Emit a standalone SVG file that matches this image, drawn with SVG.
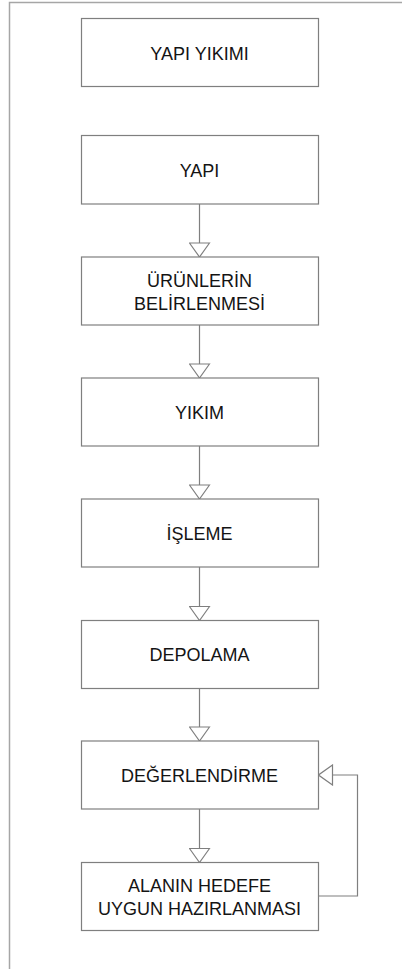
<svg xmlns="http://www.w3.org/2000/svg" width="402" height="969" viewBox="0 0 402 969">
  <style>
    .box { fill: #ffffff; stroke: #7f7f7f; stroke-width: 1.2; }
    .label { font-family: "Liberation Sans", Arial, sans-serif; font-size: 18px; fill: #141414; text-anchor: middle; }
    .link { fill: none; stroke: #7f7f7f; stroke-width: 1.2; marker-end: url(#open-arrow); }
    .frame { fill: none; stroke: #a6a6a6; stroke-width: 1.5; }
  </style>
  <defs>
    <marker id="open-arrow" markerUnits="userSpaceOnUse" markerWidth="16" markerHeight="22" viewBox="-1 -1 16 22" refX="14" refY="10" orient="auto">
      <path d="M0,0 L14,10 L0,20 Z" fill="#ffffff" stroke="#7f7f7f" stroke-width="1.2"/>
    </marker>
  </defs>

  <rect width="402" height="969" fill="#ffffff"/>

  <!-- page frame -->
  <path class="frame" d="M9.5,969 V2.5 H402"/>

  <!-- connectors -->
  <g id="connectors">
    <path class="link" d="M199.5,204 V257"/>
    <path class="link" d="M199.5,325 V378"/>
    <path class="link" d="M199.5,446 V499"/>
    <path class="link" d="M199.5,567 V620.5"/>
    <path class="link" d="M199.5,688.5 V741"/>
    <path class="link" d="M199.5,809 V862.5"/>
    <path class="link" d="M318.5,896 H357.5 V775 H318.5"/>
  </g>

  <!-- nodes -->
  <g id="yapi-yikimi">
    <rect class="box" x="81.5" y="18.5" width="237" height="68"/>
    <text class="label" x="199.5" y="60">YAPI YIKIMI</text>
  </g>
  <g id="yapi">
    <rect class="box" x="81.5" y="135.5" width="237" height="68.5"/>
    <text class="label" x="199.5" y="177">YAPI</text>
  </g>
  <g id="urunlerin-belirlenmesi">
    <rect class="box" x="81.5" y="257" width="237" height="68"/>
    <text class="label" x="199.5" y="287">ÜRÜNLERİN</text>
    <text class="label" x="199.5" y="310">BELİRLENMESİ</text>
  </g>
  <g id="yikim">
    <rect class="box" x="81.5" y="378" width="237" height="68"/>
    <text class="label" x="199.5" y="419">YIKIM</text>
  </g>
  <g id="isleme">
    <rect class="box" x="81.5" y="499" width="237" height="68"/>
    <text class="label" x="199.5" y="540">İŞLEME</text>
  </g>
  <g id="depolama">
    <rect class="box" x="81.5" y="620.5" width="237" height="68"/>
    <text class="label" x="199.5" y="661">DEPOLAMA</text>
  </g>
  <g id="degerlendirme">
    <rect class="box" x="81.5" y="741" width="237" height="68"/>
    <text class="label" x="199.5" y="782">DEĞERLENDİRME</text>
  </g>
  <g id="alanin-hedefe-uygun-hazirlanmasi">
    <rect class="box" x="81.5" y="862.5" width="237" height="68"/>
    <text class="label" x="199.5" y="892">ALANIN HEDEFE</text>
    <text class="label" x="199.5" y="915">UYGUN HAZIRLANMASI</text>
  </g>
</svg>
